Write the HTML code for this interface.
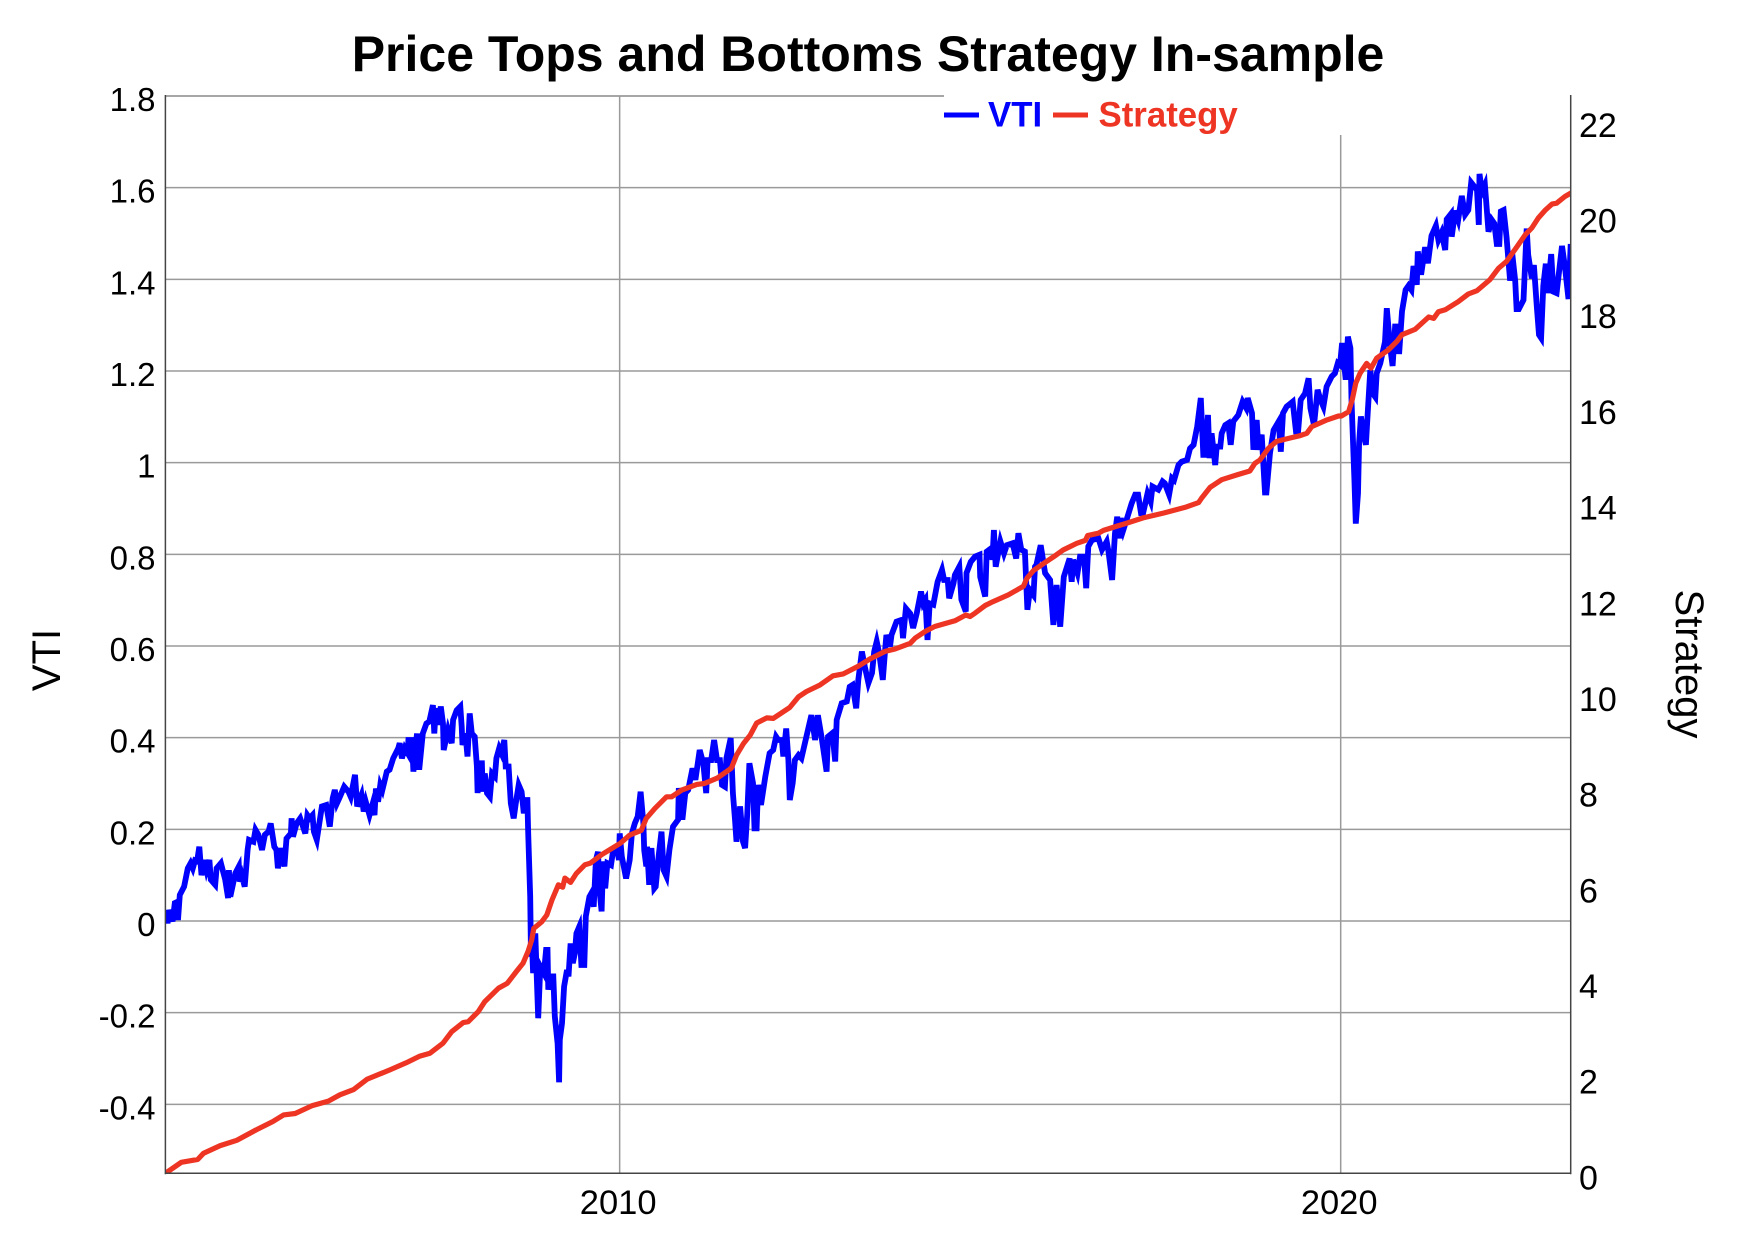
<!DOCTYPE html>
<html lang="en">
<head>
<meta charset="utf-8">
<title>Price Tops and Bottoms Strategy In-sample</title>
<style>
html,body{margin:0;padding:0;background:#fff;}
svg{display:block;font-family:"Liberation Sans",Arial,sans-serif;}
</style>
</head>
<body>
<svg id="chart" xmlns="http://www.w3.org/2000/svg" width="1746" height="1246" viewBox="0 0 1746 1246">
  <defs><clipPath id="plot-clip"><rect x="165.4" y="96" width="1405.3" height="1077.3"/></clipPath></defs>
  <g id="grid"></g>
  <g id="series" clip-path="url(#plot-clip)"></g>
  <rect x="944" y="94" width="626" height="41" fill="#fff"/>
  <g id="axes"></g>
  <text x="868" y="71" text-anchor="middle" font-size="50" font-weight="bold" fill="#000">Price Tops and Bottoms Strategy In-sample</text>
  <text transform="translate(60,660) rotate(-90)" text-anchor="middle" font-size="40" fill="#000">VTI</text>
  <text transform="translate(1676,664) rotate(90)" text-anchor="middle" font-size="40" fill="#000">Strategy</text>
  <g>
    <line x1="944" x2="979" y1="115" y2="115" stroke="#0000ff" stroke-width="5"/>
    <text x="988" y="126.5" font-size="34.8" font-weight="bold" fill="#0000ff">VTI</text>
    <line x1="1053" x2="1088" y1="115" y2="115" stroke="#ee3524" stroke-width="5"/>
    <text x="1098.5" y="126.5" font-size="34.8" font-weight="bold" fill="#ee3524">Strategy</text>
  </g>
</svg>
<script>
const vtiYears = [
2003.70,2003.73,2003.75,2003.80,2003.83,2003.87,2003.875,2003.90,2003.96,2004.01,
2004.05,2004.08,2004.11,2004.14,2004.17,2004.20,2004.24,2004.27,2004.31,2004.33,
2004.39,2004.41,2004.47,2004.53,2004.57,2004.58,2004.60,2004.67,2004.72,2004.73,
2004.76,2004.80,2004.84,2004.86,2004.92,2004.95,2004.99,2005.04,2005.08,2005.13,
2005.16,2005.21,2005.24,2005.26,2005.30,2005.35,2005.38,2005.44,2005.45,2005.47,
2005.52,2005.57,2005.64,2005.67,2005.70,2005.74,2005.76,2005.80,2005.87,2005.93,
2005.98,2006.02,2006.05,2006.08,2006.12,2006.18,2006.24,2006.27,2006.33,2006.36,
2006.42,2006.45,2006.48,2006.53,2006.57,2006.60,2006.62,2006.65,2006.68,2006.71,
2006.77,2006.81,2006.86,2006.93,2006.95,2006.98,2007.02,2007.06,2007.07,2007.12,
2007.14,2007.19,2007.22,
2007.27,2007.32,2007.36,2007.41,2007.43,2007.45,2007.49,2007.52,2007.55,2007.56,
2007.62,2007.67,2007.69,2007.74,2007.79,2007.81,2007.82,2007.86,2007.89,2007.92,
2007.95,2007.99,2008.02,2008.03,2008.05,2008.09,2008.10,2008.13,2008.16,2008.20,
2008.23,2008.27,2008.29,2008.33,2008.36,2008.40,2008.42,2008.46,2008.49,2008.53,
2008.56,2008.60,2008.64,2008.67,2008.70,2008.72,2008.73,2008.76,2008.77,2008.78,
2008.80,2008.83,2008.85,2008.87,2008.90,2008.95,2008.98,2009.00,2009.01,2009.04,
2009.08,2009.10,2009.14,2009.16,2009.17,2009.20,2009.23,2009.27,2009.29,2009.32,
2009.35,2009.38,2009.40,2009.44,2009.47,2009.51,2009.53,2009.58,2009.61,2009.64,
2009.67,2009.70,2009.72,2009.75,2009.77,2009.80,2009.83,2009.88,2009.91,2009.96,
2009.99,2010.00,
2010.03,2010.09,2010.14,2010.17,2010.21,2010.25,2010.29,2010.33,2010.34,2010.37,
2010.38,2010.41,2010.44,2010.48,2010.50,2010.54,2010.58,2010.61,2010.65,2010.69,
2010.74,2010.81,2010.82,2010.87,2010.91,2010.95,2011.01,2011.05,2011.11,2011.16,
2011.20,2011.22,2011.27,2011.31,2011.35,2011.39,2011.42,2011.46,2011.48,2011.54,
2011.57,2011.60,2011.62,2011.67,2011.71,2011.74,2011.77,2011.80,2011.85,2011.87,
2011.90,2011.92,2011.96,2012.02,2012.08,2012.13,2012.17,2012.20,2012.25,2012.27,
2012.31,2012.34,2012.36,2012.40,2012.43,2012.48,2012.52,2012.59,2012.66,2012.71,
2012.75,2012.80,2012.87,2012.89,2012.95,2012.99,2013.01,2013.08,2013.15,2013.19,
2013.23,2013.28,2013.31,2013.36,2013.40,2013.45,
2013.50,2013.53,2013.565,2013.60,2013.65,2013.68,2013.70,2013.75,2013.77,2013.84,
2013.91,2013.93,2013.97,2014.03,2014.07,2014.12,2014.18,2014.21,2014.24,2014.27,
2014.30,2014.35,2014.41,2014.47,2014.50,2014.55,2014.57,2014.63,2014.65,2014.71,
2014.74,2014.80,2014.81,2014.87,2014.93,2014.99,2015.00,2015.07,2015.09,2015.15,
2015.17,2015.19,2015.215,2015.28,2015.33,2015.37,2015.45,2015.50,2015.53,2015.57,
2015.62,2015.655,2015.69,2015.74,2015.76,2015.78,2015.84,2015.90,2015.97,2016.015,
2016.06,2016.11,2016.16,2016.24,2016.27,2016.29,2016.35,2016.385,2016.44,2016.47,
2016.50,2016.55,2016.64,2016.69,2016.755,2016.78,2016.83,2016.87,2016.90,2016.93,
2016.95,2016.985,2017.03,2017.10,2017.15,2017.19,2017.23,2017.26,2017.32,2017.365,
2017.39,2017.47,2017.53,2017.56,2017.62,2017.66,2017.69,2017.75,2017.795,2017.87,
2017.91,2017.96,2018.01,2018.06,2018.095,2018.12,2018.16,2018.18,2018.21,2018.26,
2018.28,2018.33,2018.35,2018.40,2018.44,2018.475,2018.51,2018.58,2018.64,2018.69,
2018.71,2018.77,2018.79,2018.835,2018.86,2018.905,2018.93,2018.95,2018.97,2019.02,
2019.07,2019.14,2019.17,2019.20,2019.25,2019.335,2019.38,2019.41,2019.445,2019.505,
2019.555,2019.58,2019.63,2019.68,2019.72,2019.76,2019.805,2019.875,
2019.92,2019.96,2019.99,2020.02,2020.07,2020.10,2020.135,2020.15,2020.19,2020.21,
2020.24,2020.255,2020.28,2020.315,2020.35,2020.375,2020.41,2020.44,2020.48,2020.50,
2020.55,2020.615,2020.64,2020.685,2020.72,2020.755,2020.80,2020.81,2020.85,2020.90,
2020.94,2020.98,2021.01,2021.055,2021.07,2021.115,2021.17,2021.21,2021.26,2021.32,
2021.355,2021.40,2021.45,2021.47,2021.53,2021.54,2021.59,2021.63,2021.68,2021.725,
2021.77,2021.81,2021.89,2021.915,2021.925,2021.96,2022.00,2022.05,2022.095,2022.13,
2022.165,2022.20,2022.22,2022.26,2022.30,2022.35,2022.38,2022.42,2022.44,2022.47,
2022.535,2022.58,2022.60,2022.65,2022.68,2022.72,2022.75,2022.78,2022.81,2022.845,
2022.87,2022.92,2022.95,2022.995,2023.07,2023.11,2023.16,2023.19
];
const vtiValues = [
0.024,-0.005,0.024,-0.001,0.039,0.042,0.002,0.057,0.075,0.115,
0.126,0.115,0.132,0.130,0.162,0.100,0.133,0.111,0.133,0.090,
0.079,0.115,0.126,0.090,0.050,0.111,0.053,0.104,0.119,0.086,
0.100,0.075,0.155,0.177,0.173,0.199,0.188,0.155,0.188,0.195,
0.213,0.162,0.155,0.115,0.159,0.119,0.180,0.191,0.224,0.184,
0.213,0.224,0.191,0.231,0.224,0.231,0.195,0.177,0.250,0.253,
0.206,0.268,0.286,0.257,0.271,0.293,0.282,0.271,0.319,0.250,
0.275,0.239,0.260,0.231,0.253,0.231,0.289,0.260,0.297,0.286,
0.326,0.330,0.355,0.377,0.388,0.355,0.377,0.366,0.395,0.395,
0.326,0.409,0.330,
0.409,0.431,0.435,0.471,0.409,0.464,0.428,0.468,0.431,0.373,
0.417,0.388,0.439,0.460,0.468,0.424,0.384,0.409,0.359,0.453,
0.409,0.402,0.337,0.279,0.344,0.344,0.282,0.322,0.279,0.271,
0.322,0.315,0.355,0.377,0.366,0.395,0.337,0.337,0.257,0.224,
0.257,0.297,0.282,0.235,0.264,0.264,0.199,0.053,-0.078,-0.034,
-0.114,-0.027,-0.118,-0.212,-0.099,-0.114,-0.063,-0.063,-0.150,-0.121,
-0.121,-0.208,-0.267,-0.352,-0.259,-0.223,-0.143,-0.107,-0.121,-0.049,
-0.092,-0.070,-0.027,-0.012,-0.096,-0.096,0.010,0.053,0.061,0.031,
0.133,0.151,0.068,0.021,0.130,0.071,0.126,0.122,0.155,0.162,
0.133,0.191,
0.141,0.093,0.133,0.191,0.213,0.228,0.282,0.213,0.155,0.119,
0.162,0.079,0.159,0.071,0.075,0.141,0.195,0.111,0.097,0.155,
0.206,0.221,0.290,0.221,0.279,0.286,0.333,0.308,0.373,0.344,
0.279,0.351,0.351,0.395,0.351,0.351,0.297,0.293,0.355,0.399,
0.279,0.221,0.173,0.250,0.173,0.159,0.235,0.344,0.301,0.202,
0.202,0.297,0.253,0.315,0.366,0.373,0.402,0.395,0.395,0.359,
0.420,0.351,0.264,0.301,0.351,0.362,0.355,0.402,0.449,0.395,
0.449,0.402,0.326,0.402,0.410,0.348,0.439,0.475,0.479,0.511,
0.515,0.464,0.526,0.588,0.555,0.519,
0.541,0.588,0.610,0.584,0.526,0.588,0.624,0.599,0.624,0.653,
0.657,0.617,0.682,0.671,0.639,0.671,0.719,0.693,0.701,0.613,
0.693,0.690,0.740,0.766,0.744,0.744,0.704,0.737,0.755,0.773,
0.701,0.675,0.759,0.784,0.795,0.799,0.751,0.708,0.806,0.813,
0.788,0.853,0.773,0.828,0.802,0.820,0.824,0.791,0.846,0.810,
0.806,0.679,0.722,0.711,0.773,0.777,0.820,0.759,0.744,0.646,
0.733,0.642,0.751,0.791,0.740,0.788,0.759,0.795,0.795,0.726,
0.817,0.831,0.835,0.810,0.828,0.806,0.744,0.846,0.882,0.835,
0.879,0.853,0.875,0.911,0.930,0.930,0.890,0.890,0.933,0.915,
0.948,0.941,0.959,0.955,0.930,0.966,0.962,0.995,1.002,1.006,
1.031,1.039,1.079,1.141,1.017,1.017,1.104,1.010,1.064,0.995,
1.035,1.035,1.064,1.082,1.086,1.039,1.090,1.104,1.133,1.119,
1.141,1.108,1.028,1.093,1.028,1.061,0.991,0.935,0.935,1.021,
1.071,1.090,1.024,1.108,1.122,1.133,1.068,1.068,1.137,1.151,
1.184,1.119,1.082,1.159,1.137,1.122,1.166,1.188,
1.195,1.217,1.213,1.261,1.181,1.275,1.250,1.137,0.963,0.867,
0.933,1.043,1.101,1.064,1.039,1.108,1.202,1.152,1.143,1.195,
1.217,1.264,1.337,1.253,1.211,1.297,1.297,1.237,1.330,1.377,
1.386,1.377,1.429,1.388,1.461,1.410,1.470,1.435,1.495,1.517,
1.486,1.502,1.464,1.531,1.543,1.493,1.550,1.530,1.582,1.541,
1.551,1.611,1.595,1.519,1.630,1.591,1.606,1.504,1.530,1.522,
1.477,1.477,1.548,1.551,1.493,1.397,1.455,1.397,1.335,1.335,
1.355,1.511,1.453,1.402,1.431,1.341,1.279,1.272,1.386,1.434,
1.370,1.455,1.373,1.370,1.473,1.428,1.357,1.477
];
const strategyYears = [
2003.70,2003.92,2004.15,2004.23,2004.46,2004.69,2004.96,2005.19,2005.34,2005.50,
2005.73,2005.96,2006.12,2006.31,2006.50,2006.81,2007.04,2007.23,2007.37,2007.55,
2007.67,2007.83,2007.90,2008.04,2008.13,2008.32,2008.44,2008.57,2008.66,2008.73,
2008.78,2008.81,2008.92,2008.99,2009.06,2009.15,2009.21,2009.24,2009.32,2009.40,
2009.52,2009.59,2009.75,2009.87,2010.01,2010.14,2010.30,2010.37,2010.49,2010.65,
2010.72,2010.86,2011.07,2011.18,2011.35,2011.55,2011.62,2011.72,2011.81,2011.90,
2012.04,2012.13,2012.36,2012.48,2012.59,2012.78,2012.96,2013.10,2013.31,2013.47,
2013.68,2013.82,2014.03,2014.10,2014.24,2014.37,2014.65,2014.80,2014.86,2014.93,
2015.07,2015.18,2015.39,2015.60,2015.65,2015.74,2015.92,2016.02,2016.15,2016.34,
2016.46,2016.49,2016.64,2016.71,2016.92,2017.03,2017.26,2017.54,2017.84,2018.03,
2018.07,2018.19,2018.35,2018.56,2018.74,2018.81,2018.88,2019.00,2019.11,2019.32,
2019.44,2019.53,2019.60,2019.81,2019.97,2020.01,2020.11,2020.16,2020.21,2020.27,
2020.36,2020.42,2020.50,2020.66,2020.78,2020.85,2021.03,2021.22,2021.29,2021.355,
2021.45,2021.63,2021.77,2021.89,2022.07,2022.19,2022.30,2022.44,2022.56,2022.65,
2022.74,2022.84,2022.93,2022.995,2023.11,2023.19
];
const strategyValues = [
0.00,0.23,0.29,0.42,0.58,0.69,0.91,1.08,1.22,1.25,
1.41,1.51,1.64,1.75,1.97,2.16,2.31,2.45,2.51,2.72,
2.96,3.15,3.17,3.38,3.59,3.87,3.97,4.22,4.39,4.64,
4.88,5.12,5.26,5.40,5.71,6.03,5.98,6.17,6.08,6.27,
6.45,6.48,6.66,6.77,6.90,7.07,7.17,7.42,7.63,7.87,
7.87,8.01,8.13,8.15,8.26,8.47,8.74,8.99,9.16,9.41,
9.52,9.51,9.74,9.96,10.07,10.21,10.40,10.44,10.60,10.75,
10.91,10.96,11.08,11.19,11.33,11.43,11.55,11.67,11.64,11.71,
11.87,11.95,12.09,12.27,12.44,12.60,12.79,12.89,13.03,13.17,
13.23,13.33,13.38,13.44,13.54,13.59,13.70,13.80,13.92,14.02,
14.11,14.34,14.50,14.60,14.68,14.84,14.91,15.16,15.30,15.38,
15.42,15.47,15.61,15.75,15.83,15.83,15.92,16.17,16.52,16.73,
16.93,16.83,17.04,17.21,17.39,17.53,17.64,17.90,17.87,18.01,
18.05,18.22,18.38,18.45,18.68,18.92,19.06,19.36,19.62,19.76,
19.97,20.14,20.26,20.28,20.42,20.49
];
const leftTicks = [-0.4,-0.2,0,0.2,0.4,0.6,0.8,1,1.2,1.4,1.6,1.8];
const rightTicks = [0,2,4,6,8,10,12,14,16,18,20,22];
const xTicks = [2010,2020];

const plot = {left:165.4,right:1570.7,top:96,bottom:1173.3};
const xDomain = [2003.70,2023.19];
const leftDomain = [-0.5505,1.8];
const rightDomain = [0,22.52];

function xScale(v){return plot.left+(v-xDomain[0])/(xDomain[1]-xDomain[0])*(plot.right-plot.left);}
function yLeft(v){return plot.bottom-(v-leftDomain[0])/(leftDomain[1]-leftDomain[0])*(plot.bottom-plot.top);}
function yRight(v){return plot.bottom-(v-rightDomain[0])/(rightDomain[1]-rightDomain[0])*(plot.bottom-plot.top);}

const NS='http://www.w3.org/2000/svg';
function mk(tag,parent,attrs){
  const el=document.createElementNS(NS,tag);
  for(const k in attrs){el.setAttribute(k,attrs[k]);}
  parent.appendChild(el);
  return el;
}
const grid=document.getElementById('grid');
const axes=document.getElementById('axes');
const series=document.getElementById('series');

leftTicks.forEach(function(t){
  const y=yLeft(t);
  const line=mk('line',grid,{x1:plot.left,x2:plot.right,y1:y,y2:y,stroke:'#9a9a9a','stroke-width':1.5});
  
  
  const label=mk('text',axes,{x:155.5,y:y+15,'text-anchor':'end','font-size':33,fill:'#000'});
  label.textContent=String(t);
  
  
});
const topGrid=mk('line',grid,{x1:plot.left,x2:plot.right,y1:plot.top,y2:plot.top,stroke:'#9a9a9a','stroke-width':1.5});



xTicks.forEach(function(t){
  const x=xScale(t);
  const line=mk('line',grid,{x1:x,x2:x,y1:plot.top,y2:plot.bottom,stroke:'#9a9a9a','stroke-width':1.5});
  
  
  const label=mk('text',axes,{x:x-1.5,y:1214,'text-anchor':'middle','font-size':34.5,fill:'#000'});
  label.textContent=String(t);
  
  
});
rightTicks.forEach(function(t){
  const label=mk('text',axes,{x:1579,y:yRight(t)+16,'font-size':34,fill:'#000'});
  label.textContent=String(t);
  
  
});

function buildPath(xs,ys,yFn){
  let d='';
  for(let i=0;i<Math.min(xs.length,ys.length);i++){
    d+=(i?'L':'M')+xScale(xs[i]).toFixed(1)+' '+yFn(ys[i]).toFixed(1);
  }
  return d;
}
const vtiLine=mk('path',series,{d:buildPath(vtiYears,vtiValues,yLeft),fill:'none',stroke:'#0000ff','stroke-width':5.8,'stroke-linejoin':'miter','stroke-miterlimit':4.5});


const strategyLine=mk('path',series,{d:buildPath(strategyYears,strategyValues,yRight),fill:'none',stroke:'#ee3524','stroke-width':5.2,'stroke-linejoin':'round','stroke-linecap':'round'});



const axisLeft=mk('line',axes,{x1:plot.left,x2:plot.left,y1:plot.top-1,y2:plot.bottom+1,stroke:'#444','stroke-width':1.5});


const axisRight=mk('line',axes,{x1:plot.right,x2:plot.right,y1:plot.top-1,y2:plot.bottom+1,stroke:'#444','stroke-width':1.5});


const axisBottom=mk('line',axes,{x1:plot.left,x2:plot.right,y1:plot.bottom,y2:plot.bottom,stroke:'#444','stroke-width':1.5});


</script>
</body>
</html>
